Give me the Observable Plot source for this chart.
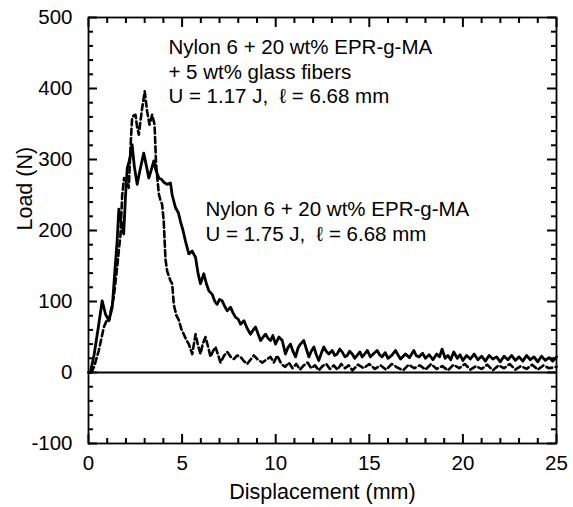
<!DOCTYPE html>
<html>
<head>
<meta charset="utf-8">
<script src="https://cdn.jsdelivr.net/npm/d3@7"></script>
<script src="https://cdn.jsdelivr.net/npm/@observablehq/plot@0.6"></script>
<style>
  html, body { margin: 0; padding: 0; background: #fff; }
  svg { display: block; }
</style>
</head>
<body>
<div id="chart"></div>
<script>
// Nylon 6 + 20 wt% EPR-g-MA (solid)
const solidDisp = [0, 0.1, 0.3, 0.55, 0.73, 0.91, 1.09, 1.27, 1.4, 1.53, 1.62, 1.72, 1.88, 1.98, 2.07, 2.2, 2.33, 2.45, 2.6, 2.75, 2.95, 3.1, 3.22, 3.35, 3.49, 3.6, 3.76, 3.9, 4.02, 4.2, 4.38, 4.47, 4.65, 4.8, 4.91, 5.05, 5.18, 5.36, 5.54, 5.72, 5.85, 5.98, 6.16, 6.3, 6.43, 6.61, 6.75, 6.87, 7.0, 7.14, 7.28, 7.41, 7.59, 7.72, 7.85, 8.0, 8.12, 8.3, 8.48, 8.65, 8.8, 8.92, 9.05, 9.19, 9.33, 9.46, 9.6, 9.72, 9.85, 9.99, 10.17, 10.35, 10.52, 10.65, 10.79, 10.92, 11.06, 11.2, 11.32, 11.5, 11.65, 11.77, 11.9, 12.04, 12.17, 12.3, 12.45, 12.57, 12.7, 12.84, 13.02, 13.15, 13.28, 13.42, 13.55, 13.7, 13.82, 13.95, 14.09, 14.22, 14.35, 14.5, 14.62, 14.75, 14.89, 15.06, 15.25, 15.42, 15.55, 15.68, 15.85, 16.0, 16.2, 16.4, 16.55, 16.67, 16.93, 17.15, 17.38, 17.5, 17.65, 17.85, 18.0, 18.2, 18.4, 18.6, 18.75, 18.89, 19.05, 19.2, 19.35, 19.51, 19.7, 19.85, 20.0, 20.2, 20.4, 20.6, 20.8, 21.0, 21.2, 21.4, 21.6, 21.8, 22.0, 22.2, 22.4, 22.6, 22.8, 23.0, 23.2, 23.4, 23.6, 23.8, 24.0, 24.2, 24.4, 24.6, 24.8, 25.0];
const solidLoad = [0, 0, 25, 68, 101, 82, 73, 92, 140, 185, 230, 215, 195, 250, 288, 300, 321, 290, 265, 285, 309, 290, 274, 285, 298, 285, 274, 272, 268, 265, 267, 250, 232, 225, 213, 200, 185, 167, 171, 162, 140, 125, 139, 125, 115, 110, 100, 96, 103, 101, 93, 87, 92, 84, 78, 75, 68, 73, 62, 54, 60, 64, 55, 45, 50, 54, 48, 45, 52, 40, 50, 45, 26, 35, 40, 30, 22, 35, 40, 45, 32, 22, 30, 36, 25, 17, 28, 36, 30, 26, 31, 24, 26, 33, 29, 22, 24, 30, 26, 20, 24, 29, 22, 26, 31, 22, 27, 31, 25, 22, 28, 20, 24, 31, 24, 19, 26, 21, 31, 24, 22, 27, 20, 25, 18, 26, 22, 33, 20, 24, 18, 29, 20, 25, 17, 24, 19, 26, 18, 23, 16, 24, 19, 22, 15, 23, 18, 24, 17, 22, 16, 24, 18, 22, 15, 23, 17, 21, 16, 22];

// Nylon 6 + 20 wt% EPR-g-MA + 5 wt% glass fibers (dashed)
const dashedDisp = [0.15, 0.3, 0.55, 0.82, 1.0, 1.09, 1.2, 1.35, 1.53, 1.71, 1.8, 1.9, 1.98, 2.08, 2.15, 2.25, 2.33, 2.42, 2.51, 2.6, 2.69, 2.78, 2.87, 3.0, 3.13, 3.26, 3.4, 3.53, 3.61, 3.76, 3.85, 3.93, 4.02, 4.11, 4.2, 4.38, 4.47, 4.56, 4.7, 4.82, 4.95, 5.09, 5.22, 5.36, 5.54, 5.63, 5.72, 5.85, 5.98, 6.1, 6.25, 6.4, 6.52, 6.65, 6.78, 6.92, 7.05, 7.25, 7.41, 7.6, 7.76, 7.95, 8.12, 8.3, 8.48, 8.65, 8.83, 9.05, 9.28, 9.5, 9.72, 9.9, 10.08, 10.3, 10.5, 10.7, 10.9, 11.1, 11.3, 11.5, 11.7, 11.9, 12.1, 12.3, 12.5, 12.7, 12.9, 13.1, 13.3, 13.5, 13.7, 13.9, 14.1, 14.4, 14.7, 15.0, 15.3, 15.6, 15.9, 16.2, 16.5, 16.8, 17.1, 17.4, 17.7, 18.0, 18.3, 18.6, 18.9, 19.2, 19.5, 19.8, 20.1, 20.4, 20.7, 21.0, 21.3, 21.6, 21.9, 22.2, 22.5, 22.8, 23.1, 23.4, 23.7, 24.0, 24.3, 24.6, 25.0];
const dashedLoad = [0, 8, 31, 64, 75, 73, 88, 106, 148, 195, 250, 274, 270, 265, 260, 320, 359, 362, 363, 345, 335, 355, 373, 396, 368, 349, 363, 349, 293, 251, 242, 237, 213, 160, 143, 129, 125, 95, 80, 74, 62, 54, 46, 40, 26, 40, 54, 38, 26, 40, 50, 35, 22, 30, 36, 25, 14, 24, 29, 22, 19, 24, 22, 16, 12, 18, 24, 18, 14, 18, 22, 14, 24, 12, 8, 14, 6, 12, 4, 10, 14, 6, 10, 3, 9, 12, 5, 10, 4, 12, 6, 10, 3, 11, 6, 12, 5, 10, 4, 12, 7, 3, 11, 6, 10, 4, 12, 5, 9, 3, 11, 6, 12, 4, 9, 5, 11, 3, 10, 6, 12, 4, 9, 5, 11, 4, 10, 6, 8];

const yMajorTicks = [-100, 0, 100, 200, 300, 400, 500];
const yMinorTicks = [-80, -60, -40, -20, 20, 40, 60, 80, 120, 140, 160, 180, 220, 240, 260, 280, 320, 340, 360, 380, 420, 440, 460, 480];
const xMajorTicks = [0, 5, 10, 15, 20, 25];
const xMinorTicks = [1, 2, 3, 4, 6, 7, 8, 9, 11, 12, 13, 14, 16, 17, 18, 19, 21, 22, 23, 24];

const annot1Lines = ["Nylon 6 + 20 wt% EPR-g-MA", "+ 5 wt% glass fibers", "U = 1.17 J,\u00a0 \u2113 = 6.68 mm"];
const annot1Y = [458, 423, 389];
const annot1X = 4.27;
const annot2Lines = ["Nylon 6 + 20 wt% EPR-g-MA", "U = 1.75 J,\u00a0 \u2113 = 6.68 mm"];
const annot2Y = [230, 195];
const annot2X = 6.25;

const xLabel = "Displacement (mm)";
const yLabel = "Load (N)";

const xDomain = [0, 25];
const yDomain = [-100, 500];

const solid = solidDisp.map((d, i) => ({x: d, y: solidLoad[i]}));
const dashed = dashedDisp.map((d, i) => ({x: d, y: dashedLoad[i]}));
const ann1 = annot1Lines.map((t, i) => ({t, x: annot1X, y: annot1Y[i]}));
const ann2 = annot2Lines.map((t, i) => ({t, x: annot2X, y: annot2Y[i]}));

const font = "'Liberation Sans', Arial, Helvetica, sans-serif";
const PW = 573 - 88 - 17;
const majorLen = 9, minorLen = 5;

const chart = Plot.plot({
  width: 573,
  height: 507,
  marginLeft: 88,
  marginRight: 17,
  marginTop: 17,
  marginBottom: 64,
  style: {fontFamily: font, fontSize: "20px"},
  x: {domain: xDomain, axis: null},
  y: {domain: yDomain, axis: null},
  marks: [
    Plot.ruleY([0], {stroke: "black", strokeWidth: 2}),
    Plot.line(dashed, {x: "x", y: "y", stroke: "black", strokeWidth: 2.6, strokeDasharray: "6,3.5"}),
    Plot.line(solid, {x: "x", y: "y", stroke: "black", strokeWidth: 2.8}),
    Plot.frame({stroke: "black", strokeWidth: 1.8}),
    // inward ticks: left, right, bottom, top
    Plot.ruleY(yMajorTicks, {y: d => d, insetRight: PW - majorLen, stroke: "#000", strokeWidth: 2}),
    Plot.ruleY(yMinorTicks, {y: d => d, insetRight: PW - minorLen, stroke: "#000", strokeWidth: 2}),
    Plot.ruleY(yMajorTicks, {y: d => d, insetLeft: PW - majorLen, stroke: "#000", strokeWidth: 2}),
    Plot.ruleY(yMinorTicks, {y: d => d, insetLeft: PW - minorLen, stroke: "#000", strokeWidth: 2}),
    Plot.axisX(xMajorTicks, {anchor: "bottom", tickSize: -majorLen, fill: "none", label: null, stroke: "#000", strokeWidth: 2}),
    Plot.axisX(xMinorTicks, {anchor: "bottom", tickSize: -minorLen, fill: "none", label: null, stroke: "#000", strokeWidth: 2}),
    Plot.axisX(xMajorTicks, {anchor: "top", tickSize: -majorLen, fill: "none", label: null, stroke: "#000", strokeWidth: 2}),
    Plot.axisX(xMinorTicks, {anchor: "top", tickSize: -minorLen, fill: "none", label: null, stroke: "#000", strokeWidth: 2}),
    // tick labels
    Plot.axisY(yMajorTicks, {anchor: "left", tickSize: 0, tickPadding: 16, label: null, fontSize: 20.5, fill: "black", tickFormat: d => String(d)}),
    Plot.axisX(xMajorTicks, {anchor: "bottom", tickSize: 0, tickPadding: 12, label: null, fontSize: 20.5, fill: "black", tickFormat: d => String(d)}),
    // axis titles
    Plot.text([xLabel], {frameAnchor: "bottom", dy: 49, text: d => d, fontSize: 21.5, fill: "black", lineAnchor: "middle"}),
    Plot.text([yLabel], {frameAnchor: "left", dx: -63, rotate: -90, text: d => d, fontSize: 21.5, fill: "black", lineAnchor: "middle"}),
    // annotations
    Plot.text(ann1, {x: "x", y: "y", text: "t", textAnchor: "start", lineAnchor: "middle", fontSize: 20.5, fill: "black"}),
    Plot.text(ann2, {x: "x", y: "y", text: "t", textAnchor: "start", lineAnchor: "middle", fontSize: 20.5, fill: "black"})
  ]
});
document.getElementById("chart").appendChild(chart);
</script>
</body>
</html>
